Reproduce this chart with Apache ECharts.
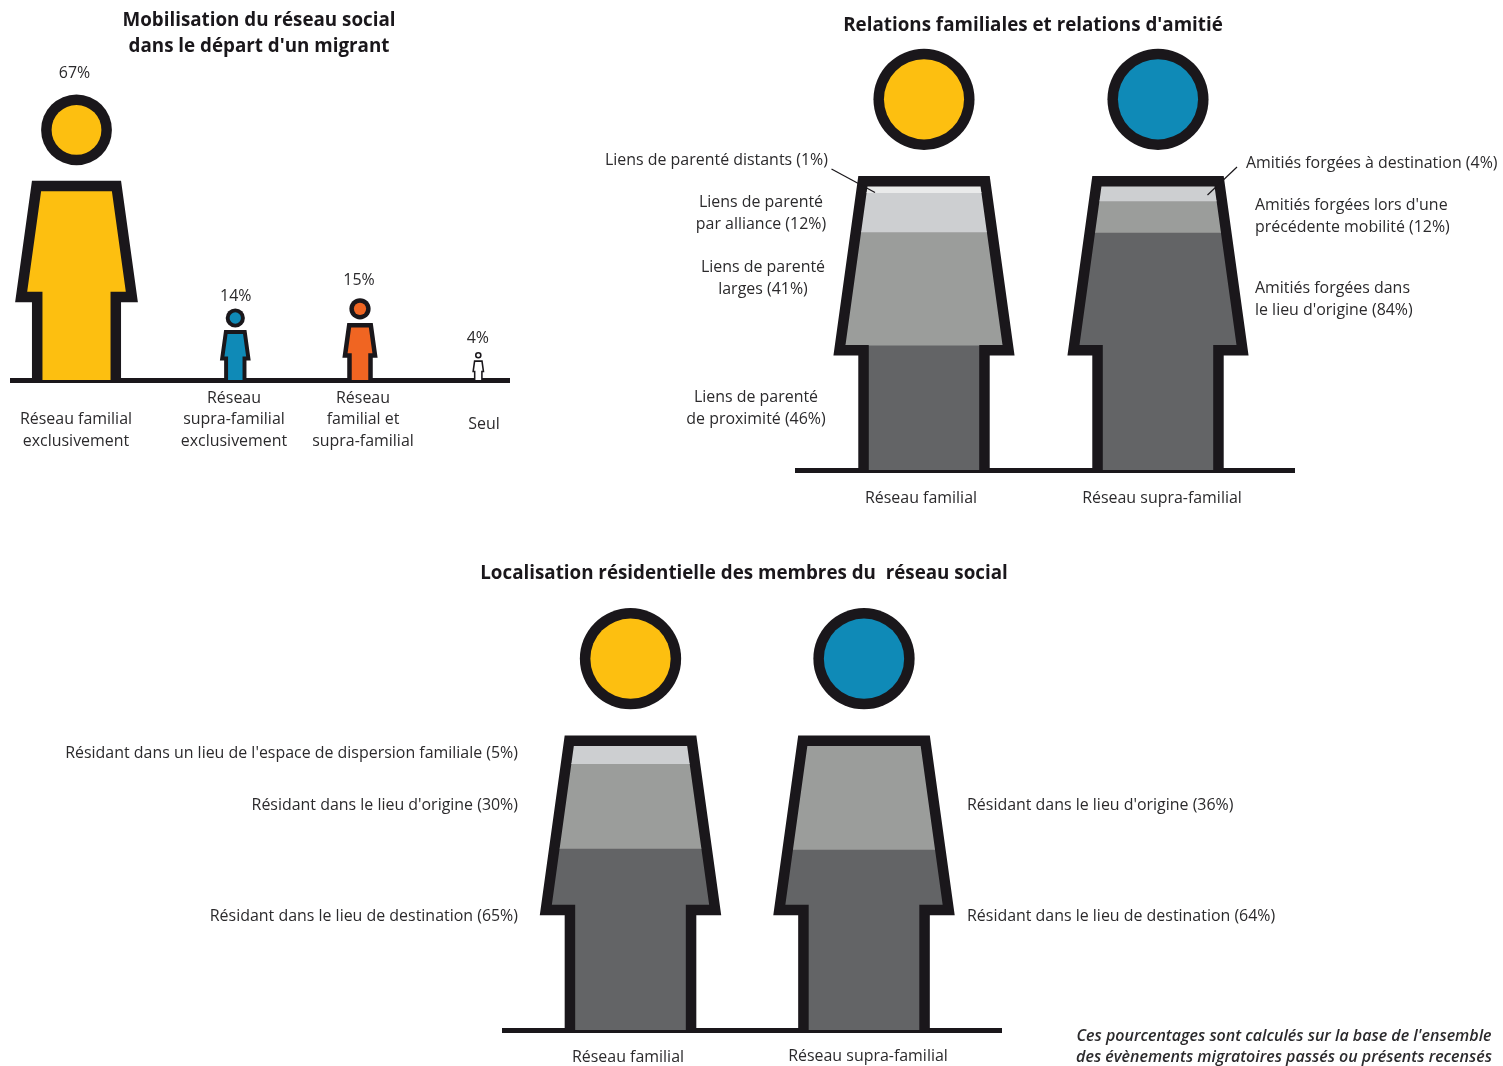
<!DOCTYPE html>
<html>
<head>
<meta charset="utf-8">
<style>html,body{margin:0;padding:0;background:#fff}#chart{width:1503px;height:1066px}</style>
<script src="https://cdn.jsdelivr.net/npm/echarts@6/dist/echarts.min.js"></script>
</head>
<body>
<div id="chart"></div>
<script>
// ---- data ----
const mobilisationCategories = ['Réseau familial\nexclusivement', 'Réseau\nsupra-familial\nexclusivement', 'Réseau\nfamilial et\nsupra-familial', 'Seul'];
const mobilisationShares = [67, 14, 15, 4];
const mobilisationStature = [67, 16.8, 19.2, 6.6]; // drawn height of each figure, same unit as the tallest

const networkCategories = ['Réseau familial', 'Réseau supra-familial'];
// printed percentages, bottom to top
const kinshipShares = [46, 41, 12, 1];
const friendshipShares = [84, 12, 4];
const familyResidenceShares = [65, 30, 5];
const supraResidenceShares = [64, 36];
// band heights as drawn in the figures, bottom to top
const kinshipDrawn = [43.9, 40.0, 13.8, 2.3];
const friendshipDrawn = [83.7, 11.1, 5.2];
const familyResidenceDrawn = [63.8, 29.9, 6.3];
const supraResidenceDrawn = [63.5, 36.5];

// ---- style ----
const INK = '#1A171B', TEXT = '#2B2A2C';
const GOLD = '#FDBF10', BLUE = '#0F8AB7', ORANGE = '#F06522', WHITE = '#FFFFFF';
const G1 = '#E9EAEA', G2 = '#CDCFD1', G3 = '#9B9D9B', G4 = '#636466';
const FONT = '"Open Sans", sans-serif';
const BODY_SIZE = 15.95;
const mobilisationFills = [GOLD, BLUE, ORANGE, WHITE];
const networkHeads = [GOLD, BLUE];
const kinshipTones = [G4, G3, G2, G1];
const friendshipTones = [G4, G3, G2];
const familyResidenceTones = [G4, G3, G2];
const supraResidenceTones = [G4, G3];

// ---- glyph: a person, in fractions of its height ----
const LEG = 0.156, TIP = 0.215, WAIST = 0.272, TORSO = 0.698;
const NETWORK_HEAD = 0.12;
const mobilisationHead = [0.124, 0.134, 0.13, 0.118];
function strokeFor(H) { return Math.min(H * 0.055, 10.5); }
function outerBody(cx, base, H) {
  const P = (x, y) => [cx + x * H, base - y * H];
  return [P(LEG, 0), P(LEG, WAIST), P(TIP, WAIST), P(LEG, TORSO), P(-LEG, TORSO), P(-TIP, WAIST), P(-LEG, WAIST), P(-LEG, 0)];
}
function inset(pts, s) {
  const n = pts.length;
  let area = 0;
  pts.forEach((p, i) => { const q = pts[(i + 1) % n]; area += p[0] * q[1] - q[0] * p[1]; });
  const sign = area > 0 ? 1 : -1;
  const lines = pts.map((a, i) => {
    const b = pts[(i + 1) % n];
    const dx = b[0] - a[0], dy = b[1] - a[1], len = Math.hypot(dx, dy);
    const d = i === n - 1 ? 0 : s;               // the feet stand open on the ground line
    const nx = -dy / len * sign, ny = dx / len * sign;
    return { x: a[0] + nx * d, y: a[1] + ny * d, dx, dy };
  });
  return pts.map((_, i) => {
    const A = lines[(i - 1 + n) % n], B = lines[i];
    const det = A.dx * B.dy - A.dy * B.dx;
    const t = ((B.x - A.x) * B.dy - (B.y - A.y) * B.dx) / det;
    return [A.x + A.dx * t, A.y + A.dy * t];
  });
}
function headEls(cx, base, H, s, fill, ratio) {
  const r = ratio * H, cy = base - H + r;
  return [
    { type: 'circle', shape: { cx, cy, r }, style: { fill: INK } },
    { type: 'circle', shape: { cx, cy, r: r - s }, style: { fill } }
  ];
}

// ---- chart 1 : figures sized by stature ----
const mobilisationNudge = [4, 37.8, 37.5, 30.8];
const mobilisationLabelGap = [21, 12, 18, 13];
const mobilisationLabelShift = [-2, 0.5, -1, -0.5];
function renderMobilisation(params, api) {
  const i = api.value(0);
  const b = api.coord([i, 0]), t = api.coord([i, api.value(1)]);
  const cx = b[0] + mobilisationNudge[i], base = b[1], H = base - t[1];
  const s = strokeFor(H), fill = mobilisationFills[i];
  const outer = outerBody(cx, base, H);
  return {
    type: 'group',
    children: headEls(cx, base, H, s, fill, mobilisationHead[i]).concat([
      { type: 'polygon', shape: { points: outer }, style: { fill: INK } },
      { type: 'polygon', shape: { points: inset(outer, s) }, style: { fill } },
      { type: 'text', style: {
          text: mobilisationShares[i] + '%', x: cx + mobilisationLabelShift[i], y: t[1] - mobilisationLabelGap[i],
          align: 'center', verticalAlign: 'middle', fill: TEXT, fontSize: BODY_SIZE, fontFamily: FONT } }
    ])
  };
}

// ---- charts 2 and 3 : value axis 0-100 spans the inside of the figure ----
function networkGeometry(api, i, nudge) {
  const b = api.coord([i, 0]), t = api.coord([i, 100]);
  const s = 10.5, H = (b[1] - t[1] + s) / TORSO;
  return { cx: b[0] + nudge[i], base: b[1], H, s };
}
function renderFrame(nudge) {
  return function (params, api) {
    const i = api.value(0);
    const g = networkGeometry(api, i, nudge);
    return {
      type: 'group',
      children: headEls(g.cx, g.base, g.H, g.s, networkHeads[i], NETWORK_HEAD).concat([
        { type: 'polygon', shape: { points: outerBody(g.cx, g.base, g.H) }, style: { fill: INK } }
      ])
    };
  };
}
function renderBand(nudge, toneOf) {
  return function (params, api) {
    const i = api.value(0);
    const g = networkGeometry(api, i, nudge);
    const lo = api.coord([i, api.value(1)])[1], hi = api.coord([i, api.value(2)])[1];
    const bleed = 1; // slips under the next band up, so no dark seam shows
    return {
      type: 'rect',
      shape: { x: g.cx - g.H, y: hi - bleed, width: 2 * g.H, height: lo - hi + bleed },
      style: { fill: toneOf(i, api.value(3)) },
      clipPath: { type: 'polygon', shape: { points: inset(outerBody(g.cx, g.base, g.H), g.s) } }
    };
  };
}
function stackRows(catIndex, heights) {
  let run = 0;
  return heights.map((v, k) => { const row = [catIndex, run, run + v, k]; run += v; return row; });
}

const groundLine = { show: true, onZero: false, lineStyle: { color: INK, width: 5, cap: 'butt' } };
function groundAxis(gridIndex, data) {
  return { type: 'category', gridIndex, data, axisLine: groundLine, axisTick: { show: false }, axisLabel: { show: false }, splitLine: { show: false } };
}
function hiddenValue(gridIndex, max) {
  return { type: 'value', gridIndex, min: 0, max, show: false, splitLine: { show: false } };
}

const nudge2 = [4, -12], nudge3 = [3.5, -13];
const tones2 = [kinshipTones, friendshipTones];
const tones3 = [familyResidenceTones, supraResidenceTones];

// ---- annotations ----
const T = (text, x, y, align) => ({
  type: 'text', z: 50, silent: true,
  style: { text, x, y, align: align || 'center', verticalAlign: 'middle', fill: TEXT, fontSize: BODY_SIZE, lineHeight: 21.5, fontFamily: FONT }
});
const Lead = (x1, y1, x2, y2) => ({
  type: 'line', z: 50, silent: true, shape: { x1, y1, x2, y2 }, style: { stroke: INK, lineWidth: 1.2 }
});
const annotations = [
  T(mobilisationCategories[0], 76, 430.5),
  T(mobilisationCategories[1], 234, 419.5),
  T(mobilisationCategories[2], 363, 419.5),
  T(mobilisationCategories[3], 484, 424),

  T(`Liens de parenté distants (${kinshipShares[3]}%)`, 828, 160, 'right'),
  T(`Liens de parenté\npar alliance (${kinshipShares[2]}%)`, 761, 213.5),
  T(`Liens de parenté\nlarges (${kinshipShares[1]}%)`, 763, 278.5),
  T(`Liens de parenté\nde proximité (${kinshipShares[0]}%)`, 756, 408.5),
  T(`Amitiés forgées à destination (${friendshipShares[2]}%)`, 1246, 163, 'left'),
  T(`Amitiés forgées lors d'une\nprécédente mobilité (${friendshipShares[1]}%)`, 1255, 216.5, 'left'),
  T(`Amitiés forgées dans\nle lieu d'origine (${friendshipShares[0]}%)`, 1255, 299.5, 'left'),
  T(networkCategories[0], 921, 498),
  T(networkCategories[1], 1162, 498),
  Lead(831.5, 169, 875, 192.5),
  Lead(1237, 167, 1207.5, 195),

  T(`Résidant dans un lieu de l'espace de dispersion familiale (${familyResidenceShares[2]}%)`, 518, 753, 'right'),
  T(`Résidant dans le lieu d'origine (${familyResidenceShares[1]}%)`, 518, 805, 'right'),
  T(`Résidant dans le lieu de destination (${familyResidenceShares[0]}%)`, 518, 916, 'right'),
  T(`Résidant dans le lieu d'origine (${supraResidenceShares[1]}%)`, 967, 805, 'left'),
  T(`Résidant dans le lieu de destination (${supraResidenceShares[0]}%)`, 967, 916, 'left'),
  T(networkCategories[0], 628, 1057),
  T(networkCategories[1], 868, 1056),

  { type: 'text', z: 50, silent: true, style: {
      text: "Ces pourcentages sont calculés sur la base de l'ensemble\ndes évènements migratoires passés ou présents recensés",
      x: 1284, y: 1047, align: 'center', verticalAlign: 'middle', fill: TEXT, fontSize: 16, lineHeight: 21.5,
      fontFamily: FONT, fontStyle: 'italic', fontWeight: 600 } }
];

const titleStyle = { color: INK, fontSize: 18.8, fontWeight: 'bold', fontFamily: FONT, lineHeight: 26 };

const option = {
  animation: false,
  tooltip: { show: false },
  title: [
    { text: 'Mobilisation du réseau social\ndans le départ d\'un migrant', left: 259, top: 8, textAlign: 'center', textStyle: titleStyle, padding: 0 },
    { text: "Relations familiales et relations d'amitié", left: 1033, top: 13, textAlign: 'center', textStyle: titleStyle, padding: 0 },
    { text: 'Localisation résidentielle des membres du  réseau social', left: 744, top: 561, textAlign: 'center', textStyle: titleStyle, padding: 0 }
  ],
  grid: [
    { left: 10, width: 500, top: 94.5, height: 285.5 },
    { left: 795, width: 500, top: 186.5, height: 283.5 },
    { left: 502, width: 500, top: 746, height: 284 }
  ],
  xAxis: [groundAxis(0, mobilisationCategories), groundAxis(1, networkCategories), groundAxis(2, networkCategories)],
  yAxis: [hiddenValue(0, 67), hiddenValue(1, 100), hiddenValue(2, 100)],
  series: [
    { name: 'Mobilisation', type: 'custom', xAxisIndex: 0, yAxisIndex: 0, clip: false, z: 2,
      renderItem: renderMobilisation, data: mobilisationStature.map((v, i) => [i, v]), encode: { x: 0, y: 1 } },

    { name: 'Silhouettes relations', type: 'custom', xAxisIndex: 1, yAxisIndex: 1, clip: false, z: 2,
      renderItem: renderFrame(nudge2), data: [[0, 100], [1, 100]], encode: { x: 0, y: 1 } },
    { name: 'Réseau familial', type: 'custom', xAxisIndex: 1, yAxisIndex: 1, clip: false, z: 3,
      renderItem: renderBand(nudge2, (i, k) => tones2[i][k]), data: stackRows(0, kinshipDrawn), encode: { x: 0, y: [1, 2] } },
    { name: 'Réseau supra-familial', type: 'custom', xAxisIndex: 1, yAxisIndex: 1, clip: false, z: 3,
      renderItem: renderBand(nudge2, (i, k) => tones2[i][k]), data: stackRows(1, friendshipDrawn), encode: { x: 0, y: [1, 2] } },

    { name: 'Silhouettes localisation', type: 'custom', xAxisIndex: 2, yAxisIndex: 2, clip: false, z: 2,
      renderItem: renderFrame(nudge3), data: [[0, 100], [1, 100]], encode: { x: 0, y: 1 } },
    { name: 'Localisation familial', type: 'custom', xAxisIndex: 2, yAxisIndex: 2, clip: false, z: 3,
      renderItem: renderBand(nudge3, (i, k) => tones3[i][k]), data: stackRows(0, familyResidenceDrawn), encode: { x: 0, y: [1, 2] } },
    { name: 'Localisation supra-familial', type: 'custom', xAxisIndex: 2, yAxisIndex: 2, clip: false, z: 3,
      renderItem: renderBand(nudge3, (i, k) => tones3[i][k]), data: stackRows(1, supraResidenceDrawn), encode: { x: 0, y: [1, 2] } }
  ],
  graphic: annotations
};
const chart = echarts.init(document.getElementById('chart'), null, { renderer: 'canvas' });
chart.setOption(option);
</script>
</body>
</html>
